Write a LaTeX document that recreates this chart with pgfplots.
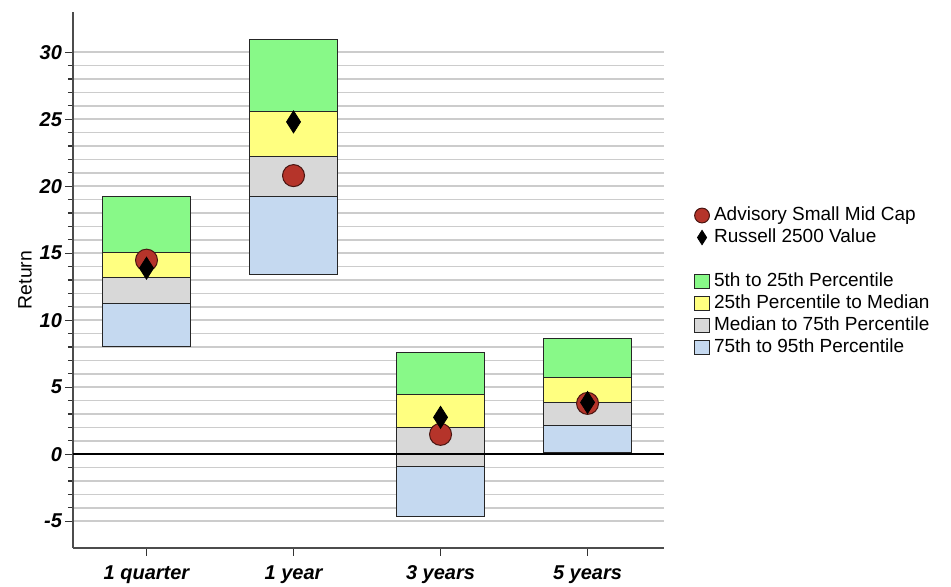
\documentclass[border=0pt]{standalone}
\usepackage{fontspec}
\setmainfont{Liberation Sans}
\usepackage{pgfplots}
\pgfplotsset{compat=1.18}
\definecolor{pgreen}{HTML}{88F988}
\definecolor{pyellow}{HTML}{FFFF80}
\definecolor{pgray}{HTML}{D8D8D8}
\definecolor{pblue}{HTML}{C5D9F0}
\definecolor{pred}{HTML}{B5342A}

\pgfplotsset{
  sqlegend/.style={legend image code/.code={\draw[##1] (0pt,-3.6pt) rectangle (7.5pt,3.6pt);}},
  mklegend/.style={legend image code/.code={\draw[##1] plot coordinates {(3.75pt,0pt)};}},
}

% floating bands: invisible base, then 75-95, median-75, 25-median, 5-25
\pgfplotstableread{
x base blue gray yellow green
0  8.02 3.26 1.93 1.86 4.16
1 13.44 5.79 2.97 3.34 5.42
2 -4.68 3.79 2.89 2.45 3.12
3  0.15 2.00 1.71 1.86 2.89
}\bands

\begin{document}
\begin{tikzpicture}
\useasboundingbox (-36.5pt,-19.5pt) rectangle (439pt,274pt);
\begin{axis}[
  scale only axis, width=295.5pt, height=268pt,
  xmin=-0.5, xmax=3.52, ymin=-7, ymax=33,
  ybar stacked, stack negative=on previous, bar width=0.6,
  axis x line*=bottom, axis y line*=left,
  axis line style={-, draw=black!70, line width=0.75pt},
  tick align=outside,
  xtick={0,1,2,3}, xticklabels={1 quarter,1 year,3 years,5 years},
  ytick={-5,0,...,30}, minor y tick num=4,
  ymajorgrids, yminorgrids,
  major grid style={black!20, line width=0.8pt},
  minor grid style={black!20, line width=0.8pt},
  major tick length=4pt, minor tick length=2.5pt,
  tick style={black!80, line width=0.6pt},
  ticklabel style={font=\fontsize{10}{12}\selectfont\bfseries\itshape},
  yticklabel style={xshift=2pt},
  xticklabel style={text height=7.5pt, text depth=2.2pt, yshift=-0.8pt},
  /pgf/number format/assume math mode=true,
  ylabel={Return},
  ylabel style={at={(axis description cs:-0.081,0.5)}, anchor=center,
    font=\fontsize{9.7}{11}\selectfont},
]
\addplot[draw=none, fill=none] table[x=x, y=base] {\bands};
\addplot[fill=pblue, draw=black!85, line width=0.5pt] table[x=x, y=blue] {\bands};
\addplot[fill=pgray, draw=black!85, line width=0.5pt] table[x=x, y=gray] {\bands};
\addplot[fill=pyellow, draw=black!85, line width=0.5pt] table[x=x, y=yellow] {\bands};
\addplot[fill=pgreen, draw=black!85, line width=0.5pt] table[x=x, y=green] {\bands};
\end{axis}

\begin{axis}[
  scale only axis, width=295.5pt, height=268pt,
  xmin=-0.5, xmax=3.52, ymin=-7, ymax=33,
  hide axis, clip=false,
  legend style={at={(1.04,0.649)}, anchor=north west, draw=none, fill=none,
    font=\fontsize{9.5}{11}\selectfont, row sep=0pt,
    nodes={text height=7pt, text depth=2pt, inner ysep=1pt}},
  legend cell align=left,
]
\addplot[black, line width=0.75pt, forget plot] coordinates {(-0.5,0) (3.52,0)};
\addplot[only marks, mark=*, mark size=5.5pt, forget plot,
  mark options={fill=pred, draw=black!60!pred, line width=0.5pt}]
  coordinates {(0,14.48) (1,20.79) (2,1.48) (3,3.79)};
\addplot[only marks, mark=diamond*, mark size=5.5pt, forget plot,
  mark options={fill=black, draw=black, xscale=0.85}]
  coordinates {(0,13.88) (1,24.8) (2,2.75) (3,3.86)};

\addlegendimage{only marks, mark=*, mark size=3.7pt, mklegend,
  mark options={fill=pred, draw=black!60!pred, line width=0.5pt}}
\addlegendentry{Advisory Small Mid Cap}
\addlegendimage{only marks, mark=diamond*, mark size=3.6pt, mklegend,
  mark options={fill=black, draw=black, xscale=0.85}}
\addlegendentry{Russell 2500 Value}
\addlegendimage{empty legend}
\addlegendentry{}
\addlegendimage{fill=pgreen, draw=black!85, line width=0.5pt, sqlegend}
\addlegendentry{5th to 25th Percentile}
\addlegendimage{fill=pyellow, draw=black!85, line width=0.5pt, sqlegend}
\addlegendentry{25th Percentile to Median}
\addlegendimage{fill=pgray, draw=black!85, line width=0.5pt, sqlegend}
\addlegendentry{Median to 75th Percentile}
\addlegendimage{fill=pblue, draw=black!85, line width=0.5pt, sqlegend}
\addlegendentry{75th to 95th Percentile}
\end{axis}
\end{tikzpicture}
\end{document}
